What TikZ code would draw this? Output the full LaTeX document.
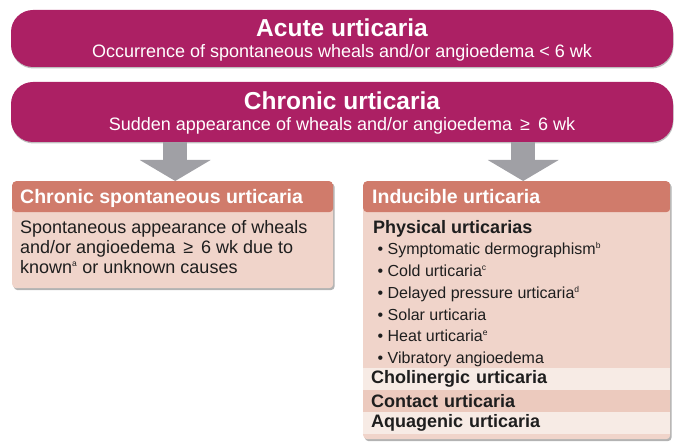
\documentclass[tikz,border=0pt]{standalone}
\usepackage{fontspec}
\setmainfont{Liberation Sans}
\usetikzlibrary{arrows.meta, positioning, shadows}
\definecolor{urtmagenta}{RGB}{172, 32, 100}
\definecolor{headsalmon}{RGB}{208, 123, 107}
\definecolor{bodypink}{RGB}{240, 212, 202}
\definecolor{bandlight}{RGB}{247, 235, 229}
\definecolor{banddark}{RGB}{236, 202, 190}
\definecolor{arrowgray}{RGB}{160, 160, 165}
\definecolor{textdark}{RGB}{30, 30, 30}
\newcommand{\fnmark}[1]{\textsuperscript{\fontsize{8.5}{8.5}\selectfont #1}}

\begin{document}
\begin{tikzpicture}[x=1pt, y=-1pt,
        bar/.style={rectangle, rounded corners=22pt, fill=urtmagenta, minimum width=662pt, inner sep=0pt,
            drop shadow={shadow xshift=0.5pt, shadow yshift=-1.5pt, opacity=0.5}},
        bartitle/.style={text=white, font=\fontsize{24.5}{28}\selectfont\bfseries, inner sep=0pt},
        barsub/.style={text=white, font=\fontsize{18}{20}\selectfont, inner sep=0pt},
        panel/.style={rectangle, rounded corners=4pt, fill=bodypink, inner sep=0pt,
            drop shadow={shadow xshift=1.5pt, shadow yshift=-2pt, opacity=0.6},
            path picture={\fill[headsalmon] (path picture bounding box.north west) rectangle ([yshift=-31pt]path picture bounding box.north east);}},
        paneltitle/.style={text=white, font=\fontsize{19.5}{22}\selectfont\bfseries, inner sep=0pt},
        paneltext/.style={text=textdark, font=\fontsize{18}{20}\selectfont, align=left, inner sep=0pt},
        band/.style={rectangle, text=textdark, font=\fontsize{18}{20}\selectfont\bfseries, inner xsep=8pt, inner ysep=0pt,
            text width=291pt, minimum height=21.5pt, align=left, anchor=north west},
        fatarrow/.style={-{Triangle[length=21pt, width=70pt]}, line width=24pt, draw=arrowgray}
    ]
    \useasboundingbox (0,0) rectangle (676,443);

    % top bars
    \node[bar, minimum height=57pt] (acute) at (342,38.5) {};
    \node[bartitle, anchor=base] (acutetitle) at ([yshift=-27pt]acute.north) {Acute urticaria};
    \node[barsub, anchor=base] (acutesub) at ([yshift=-48pt]acute.north) {Occurrence of spontaneous wheals and/or angioedema < 6 wk};

    \node[bar, minimum height=60pt] (chronic) at (342,112) {};
    \node[bartitle, anchor=base] (chronictitle) at ([yshift=-28pt]chronic.north) {Chronic urticaria};
    \node[barsub, anchor=base] (chronicsub) at ([yshift=-49pt]chronic.north) {Sudden appearance of wheals and/or angioedema \,≥\, 6 wk};

    % panels
    \node[panel, minimum width=321pt, minimum height=107pt, anchor=north west] (csu) at (12,181) {};
    \node[panel, minimum width=307pt, minimum height=258pt, anchor=north west] (ind) at (363,181) {};

    \draw[fatarrow] ([xshift=2.5pt]csu.north |- chronic.south) -- ([xshift=2.5pt]csu.north);
    \draw[fatarrow] ([xshift=6.5pt]ind.north |- chronic.south) -- ([xshift=6.5pt]ind.north);

    \node[paneltitle, anchor=base west] (csutitle) at ([xshift=8pt, yshift=-23pt]csu.north west) {Chronic spontaneous urticaria};
    \node[paneltext, anchor=north west] (csutext) at ([xshift=8pt, yshift=-39pt]csu.north west)
        {Spontaneous appearance of wheals\\and/or angioedema \,≥\, 6 wk due to\\known\fnmark{a} or unknown causes};

    \node[paneltitle, anchor=base west] (indtitle) at ([xshift=9pt, yshift=-23pt]ind.north west) {Inducible urticaria};
    \node[paneltext, anchor=north west, font=\fontsize{16}{21.7}\selectfont] (physical) at ([xshift=10pt, yshift=-39pt]ind.north west)
        {{\fontsize{18}{20}\selectfont\bfseries Physical urticarias}\\
        \ \textbullet\ Symptomatic dermographism\fnmark{b}\\
        \ \textbullet\ Cold urticaria\fnmark{c}\\
        \ \textbullet\ Delayed pressure urticaria\fnmark{d}\\
        \ \textbullet\ Solar urticaria\\
        \ \textbullet\ Heat urticaria\fnmark{e}\\
        \ \textbullet\ Vibratory angioedema};

    \node[band, fill=bandlight] (cholinergic) at ([yshift=-187pt]ind.north west) {Cholinergic urticaria};
    \node[band, fill=banddark, below=0pt of cholinergic] (contact) {Contact urticaria};
    \node[band, fill=bandlight, below=0pt of contact] (aquagenic) {Aquagenic urticaria};
\end{tikzpicture}
\end{document}
